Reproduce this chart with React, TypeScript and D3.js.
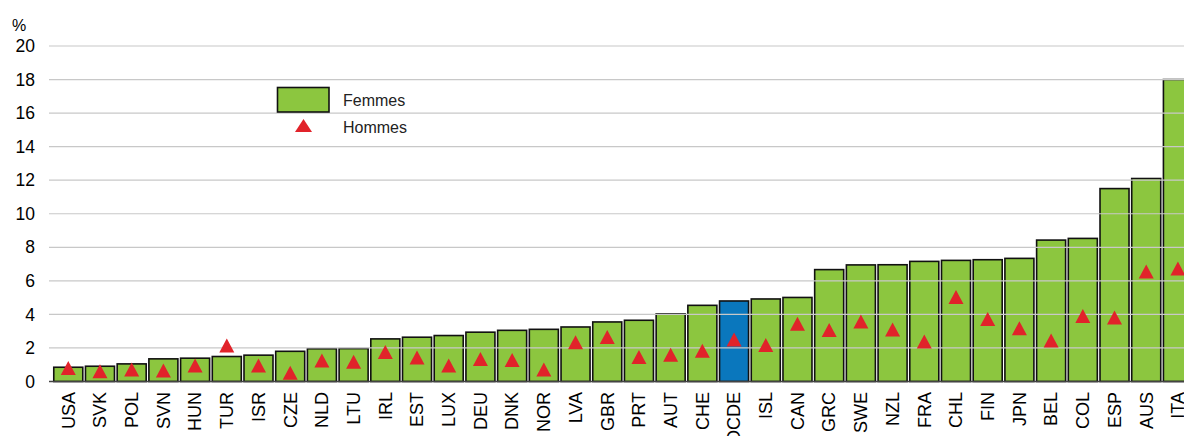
import * as d3 from 'd3'

const COUNTRIES = ['USA', 'SVK', 'POL', 'SVN', 'HUN', 'TUR', 'ISR', 'CZE', 'NLD', 'LTU', 'IRL', 'EST',
  'LUX', 'DEU', 'DNK', 'NOR', 'LVA', 'GBR', 'PRT', 'AUT', 'CHE', 'OCDE', 'ISL', 'CAN',
  'GRC', 'SWE', 'NZL', 'FRA', 'CHL', 'FIN', 'JPN', 'BEL', 'COL', 'ESP', 'AUS', 'ITA']

const FEMMES = [0.85, 0.91, 1.05, 1.35, 1.39, 1.49, 1.57, 1.8, 1.95, 1.96, 2.54, 2.64,
  2.74, 2.94, 3.05, 3.11, 3.25, 3.55, 3.65, 4.03, 4.54, 4.8, 4.92, 5.01,
  6.67, 6.95, 6.96, 7.16, 7.22, 7.26, 7.34, 8.43, 8.53, 11.5, 12.1, 18.0]

const HOMMES = [0.81, 0.61, 0.71, 0.65, 0.95, 2.15, 0.95, 0.52, 1.25, 1.18, 1.76, 1.43,
  0.95, 1.34, 1.28, 0.71, 2.34, 2.65, 1.46, 1.59, 1.84, 2.5, 2.17, 3.45,
  3.07, 3.57, 3.1, 2.38, 5.03, 3.73, 3.18, 2.44, 3.9, 3.81, 6.55, 6.73]

const Y_TICKS = [0, 2, 4, 6, 8, 10, 12, 14, 16, 18, 20]

const W = 1184
const H = 436
const GREEN = '#8cc63f'
const BLUE = '#0a77bd'
const RED = '#e1232a'
const FONT = 'Arial, "Liberation Sans", sans-serif'

export default function App() {
  const x = d3.scaleBand<string>()
    .domain(COUNTRIES)
    .range([52.5, 52.5 + 36 * 31.7])
    .paddingInner(0.085)
    .paddingOuter(0.04)
  const y = d3.scaleLinear().domain([0, 20]).range([381.5, 46])

  const tri = (cx: number, cy: number, w: number, h: number) =>
    `M${cx},${cy - h / 2}L${cx + w / 2},${cy + h / 2}L${cx - w / 2},${cy + h / 2}Z`

  return (
    <svg width={W} height={H} style={{ position: 'absolute', left: 0, top: 0, background: '#fff' }}
      fontFamily={FONT}>
      {/* y tick labels */}
      {Y_TICKS.map(t => (
        <text key={t} x={35} y={y(t)} dy="0.35em" textAnchor="end" fontSize={17.5} fill="#000">{t}</text>
      ))}
      <text x={12} y={31} fontSize={16} fill="#000">%</text>

      {/* bars */}
      {COUNTRIES.map((c, i) => (
        <rect key={c} x={x(c)!} y={y(FEMMES[i])} width={x.bandwidth()} height={y(0) - y(FEMMES[i])}
          fill={c === 'OCDE' ? BLUE : GREEN} stroke="#111" strokeWidth={1.6} />
      ))}

      {/* gridlines */}
      {Y_TICKS.filter(t => t > 0).map(t => (
        <line key={t} x1={49} x2={W} y1={y(t)} y2={y(t)} stroke="#c8c8c8" strokeWidth={1.2} />
      ))}
      <line x1={49} x2={W} y1={y(0)} y2={y(0)} stroke="#444" strokeWidth={1.6} />

      {/* Hommes markers */}
      {COUNTRIES.map((c, i) => (
        <path key={c} d={tri(x(c)! + x.bandwidth() / 2, y(HOMMES[i]), 15, 14)} fill={RED} />
      ))}

      {/* x labels */}
      {COUNTRIES.map(c => {
        const cx = x(c)! + x.bandwidth() / 2
        return (
          <text key={c} transform={`translate(${cx},392) rotate(-90)`} dy="0.35em" textAnchor="end"
            fontSize={18} fill="#000">{c}</text>
        )
      })}

      {/* legend */}
      <rect x={277.5} y={87.5} width={51.5} height={24.5} fill={GREEN} stroke="#111" strokeWidth={1.6} />
      <text x={343} y={106} fontSize={16} fill="#222">Femmes</text>
      <path d={tri(303.5, 125.5, 17, 13)} fill={RED} />
      <text x={343} y={132.5} fontSize={16} fill="#222">Hommes</text>
    </svg>
  )
}
